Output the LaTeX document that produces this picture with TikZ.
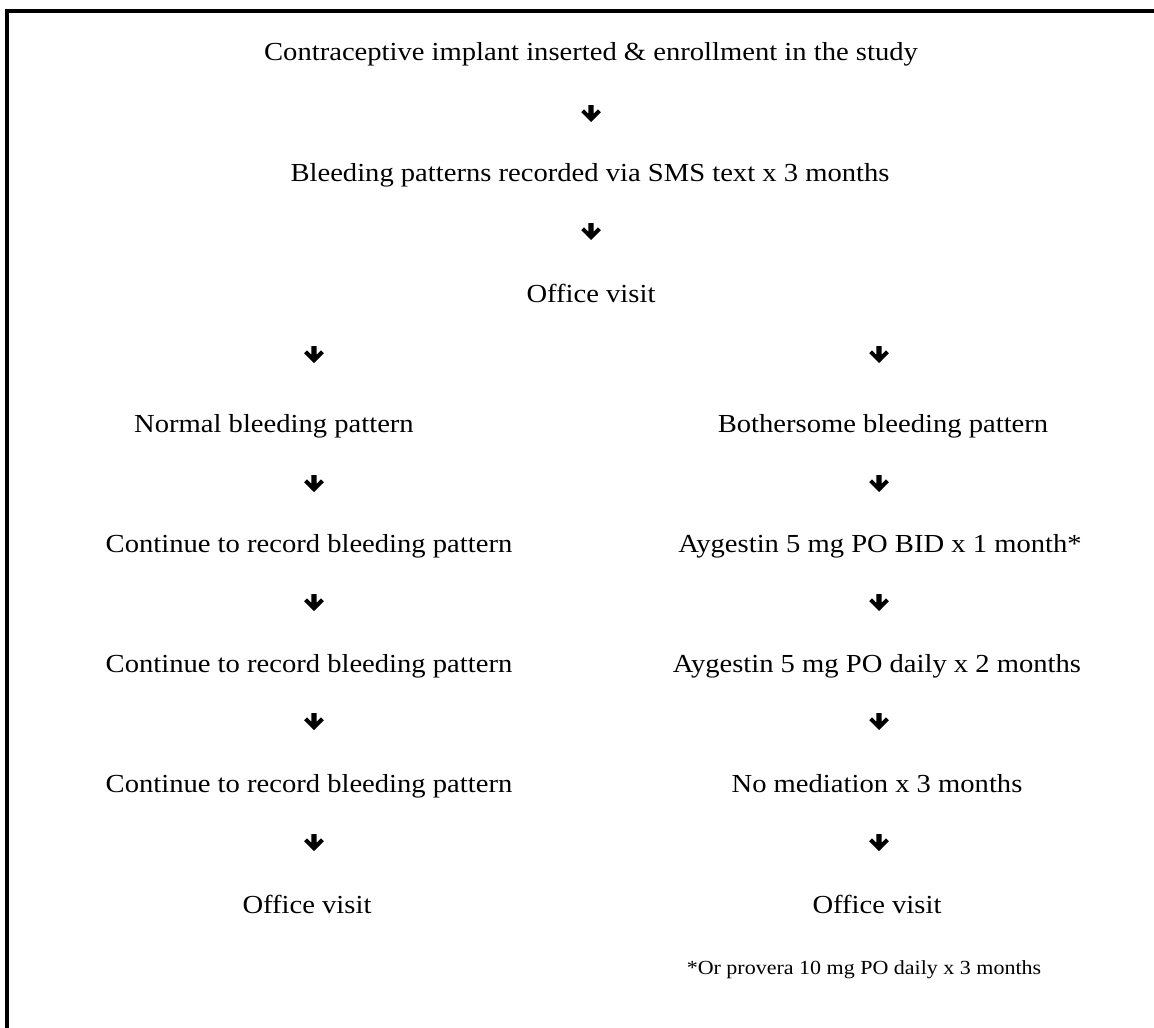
\documentclass[tikz,border=0pt]{standalone}
\usepackage{fontspec}
\setmainfont{Liberation Serif}[FakeStretch=1.1]
\begin{document}
\begin{tikzpicture}[x=1pt,y=-1pt,
  txt/.style={anchor=base,inner sep=0pt,font=\fontsize{26}{30}\selectfont},
  note/.style={anchor=base,inner sep=0pt,font=\fontsize{20}{24}\selectfont},
  dnarrow/.pic={\fill[black] (-2.7,-9)--(2.7,-9)--(2.7,-0.3)--(7,-4.6)--(9.8,-1.8)--(0,8)--(-9.8,-1.8)--(-7,-4.6)--(-2.7,-0.3)--cycle;}]
\useasboundingbox (0,0) rectangle (1154,1028);
\fill[white] (0,0) rectangle (1154,1028);
\draw[line width=4pt,line join=miter] (7,1030) -- (7,11.3) -- (1156,11.3);
% centre column
\node[txt] (t1) at (591,60) {Contraceptive implant inserted \& enrollment in the study};
\node[txt] (t2) at (590,181) {Bleeding patterns recorded via SMS text x 3 months};
\node[txt] (t3) at (591,302) {Office visit};
\pic at (591,114) {dnarrow};
\pic at (591,232) {dnarrow};
% left column
\node[txt] (l1) at (274,432) {Normal bleeding pattern};
\node[txt] (l2) at (309,552) {Continue to record bleeding pattern};
\node[txt] (l3) at (309,672) {Continue to record bleeding pattern};
\node[txt] (l4) at (309,792) {Continue to record bleeding pattern};
\node[txt] (l5) at (307,913) {Office visit};
\pic at (314,355) {dnarrow};
\pic at (314,484) {dnarrow};
\pic at (314,603) {dnarrow};
\pic at (314,722) {dnarrow};
\pic at (314,843) {dnarrow};
% right column
\node[txt] (r1) at (883,432) {Bothersome bleeding pattern};
\node[txt] (r2) at (880,552) {Aygestin 5 mg PO BID x 1 month*};
\node[txt] (r3) at (877,672) {Aygestin 5 mg PO daily x 2 months};
\node[txt] (r4) at (877,792) {No mediation x 3 months};
\node[txt] (r5) at (877,913) {Office visit};
\node[note] (fn) at (864,974) {*Or provera 10 mg PO daily x 3 months};
\pic at (879,355) {dnarrow};
\pic at (879,484) {dnarrow};
\pic at (879,603) {dnarrow};
\pic at (879,722) {dnarrow};
\pic at (879,843) {dnarrow};
\end{tikzpicture}
\end{document}
